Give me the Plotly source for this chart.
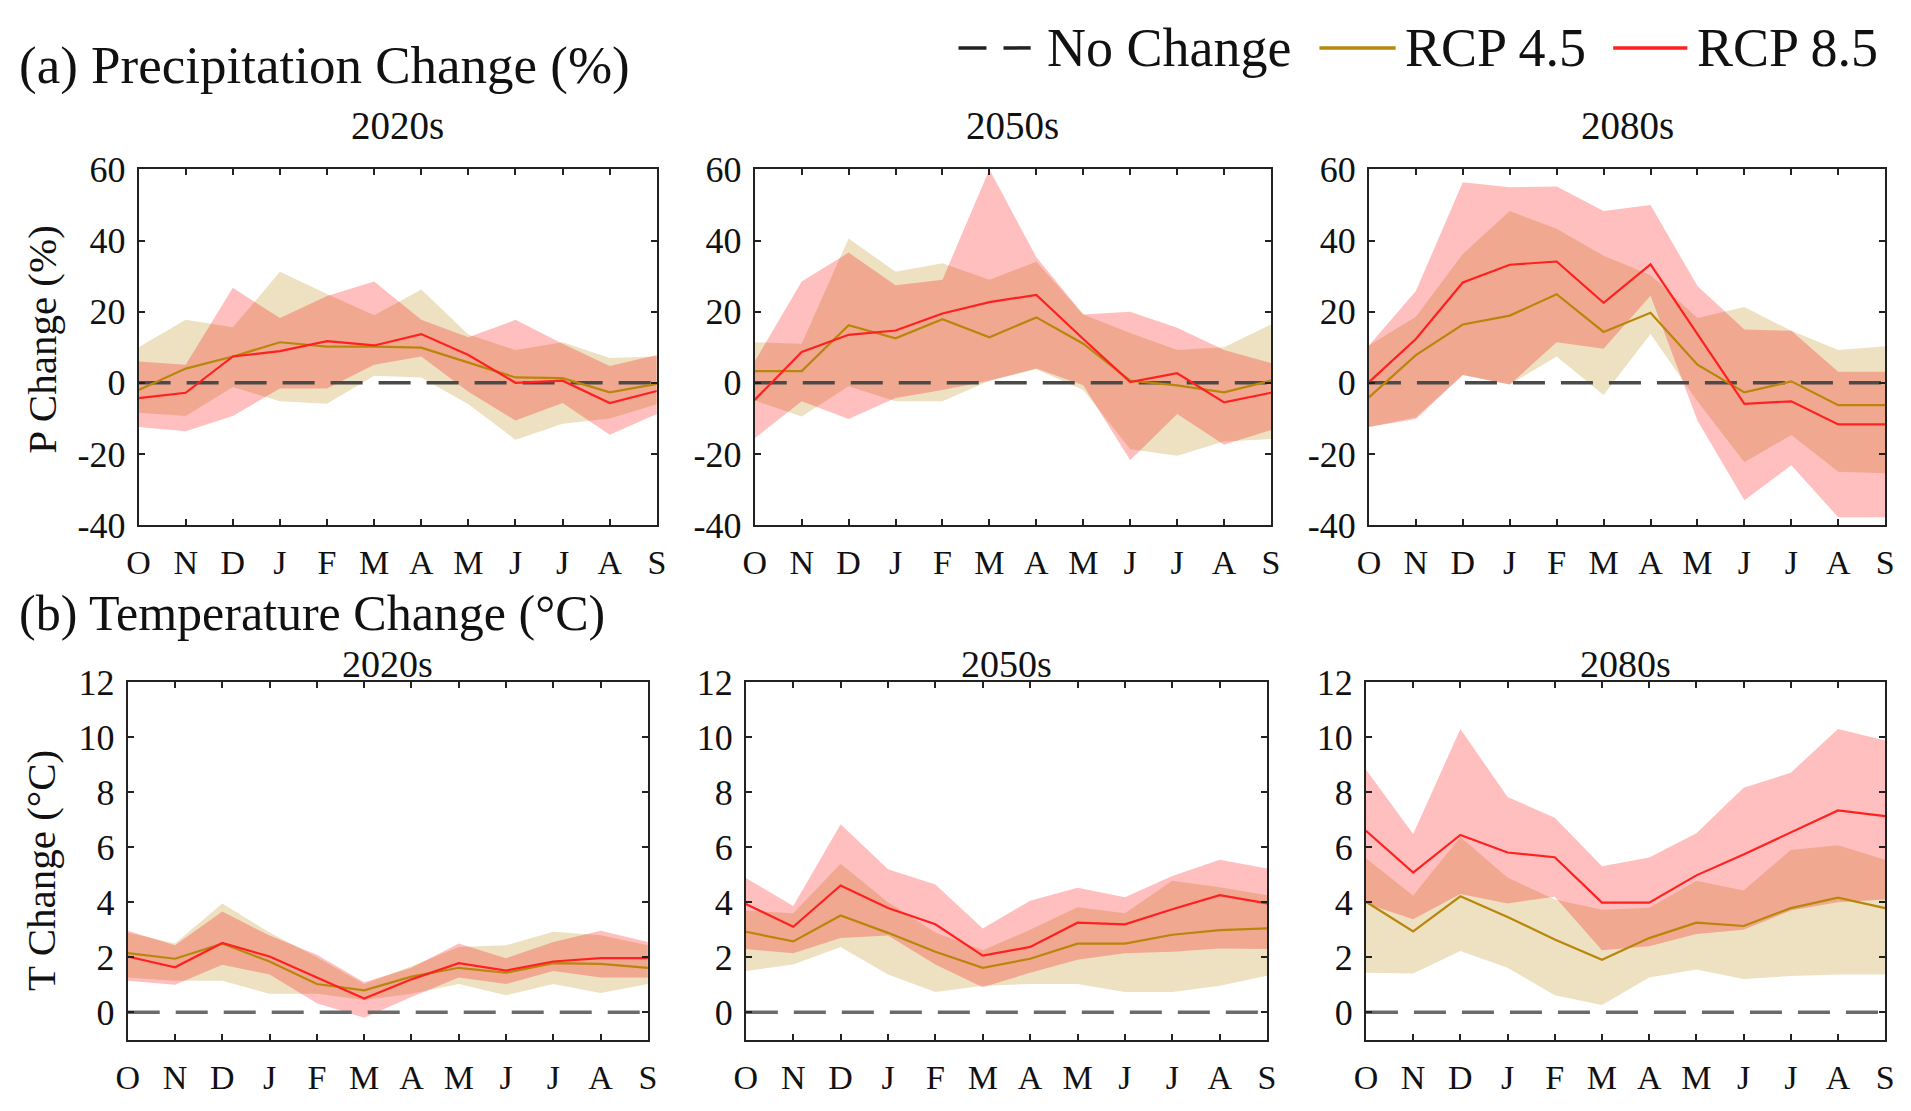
import plotly.graph_objects as go

months = ["O", "N", "D", "J", "F", "M", "A", "M", "J", "J", "A", "S"]
periods = ["2020s", "2050s", "2080s"]

# ---- Precipitation change (%) ----
P_2020_rcp45 = [-2, 4, 7.4, 11.4, 10.2, 10.2, 9.9, 5.6, 1.5, 1.3, -2.7, -0.3]
P_2020_rcp85 = [-4.3, -2.8, 7.4, 8.9, 11.7, 10.5, 13.7, 7.8, 0, 0.6, -5.7, -2.3]
P_2020_rcp45_hi = [10, 17.7, 15.6, 31.2, 25, 19, 26.2, 13.6, 9.2, 11.4, 7, 7.4]
P_2020_rcp45_lo = [-8.4, -9.3, -1.2, -5.2, -5.9, 2, 1.5, -6, -16, -11.5, -10, -6]
P_2020_rcp85_hi = [6, 5.1, 26.7, 18.2, 24.4, 28.5, 17.7, 12.8, 17.7, 11, 4.7, 7.8]
P_2020_rcp85_lo = [-12.4, -13.6, -9.3, -1.6, -1.6, 5.1, 7.4, -2.5, -10.6, -5.7, -14.6, -8.8]

P_2050_rcp45 = [3.3, 3.3, 16.2, 12.5, 17.9, 12.8, 18.4, 11, 0.6, -0.7, -2.7, 0.6]
P_2050_rcp85 = [-4.8, 8.7, 13.5, 14.7, 19.5, 22.7, 24.7, 12.3, 0.2, 2.7, -5.5, -2.8]
P_2050_rcp45_hi = [11.4, 11, 40.6, 31.2, 33.6, 29, 34, 19.2, 14, 9.2, 10, 16.4]
P_2050_rcp45_lo = [-5, -9.5, -1, -5.2, -5.2, 0.6, 3.8, -2, -18.7, -20.5, -16.5, -15.8]
P_2050_rcp85_hi = [6, 28.5, 36.6, 27.4, 29, 60, 35.3, 19.2, 20, 15.5, 9.2, 5.6]
P_2050_rcp85_lo = [-15.6, -5.2, -10.2, -4.3, -2, 0.6, 4, -0.7, -21.8, -8.8, -17.4, -13.3]

P_2080_rcp45 = [-4.1, 7.8, 16.4, 18.9, 24.9, 14.3, 19.7, 5.1, -2.7, 0.4, -6.3, -6.3]
P_2080_rcp85 = [0.2, 12.3, 28.2, 33.2, 34.1, 22.5, 33.3, 13.7, -5.9, -5.2, -11.7, -11.7]
P_2080_rcp45_hi = [10.5, 18.6, 36.2, 48.3, 43.3, 35.7, 30.3, 18.2, 21.3, 14.6, 9.2, 10.3]
P_2080_rcp45_lo = [-12.4, -9.7, 2.2, -0.5, 7.4, -3.4, 13.7, -5.2, -22.3, -14.7, -25, -25.4]
P_2080_rcp85_hi = [10.5, 25.8, 56.4, 55, 55.2, 48.3, 50, 27.2, 15, 14.6, 3.1, 3.1]
P_2080_rcp85_lo = [-12.4, -10.2, 2.2, -0.5, 11.4, 9.6, 24.5, -10.6, -33, -23.2, -37.8, -37.8]

# ---- Temperature change (°C) ----
T_2020_rcp45 = [2.15, 1.95, 2.5, 1.85, 1.03, 0.8, 1.3, 1.62, 1.44, 1.79, 1.76, 1.62]
T_2020_rcp85 = [2.03, 1.64, 2.52, 2.03, 1.27, 0.5, 1.2, 1.79, 1.52, 1.85, 1.97, 1.97]
T_2020_rcp45_hi = [2.9, 2.5, 3.96, 2.9, 2.0, 1.03, 1.68, 2.38, 2.44, 2.93, 2.8, 2.44]
T_2020_rcp45_lo = [1.27, 1.15, 1.15, 0.68, 0.68, 0.45, 0.68, 1.03, 0.62, 1.03, 0.7, 1.03]
T_2020_rcp85_hi = [2.97, 2.44, 3.67, 2.79, 2.09, 1.09, 1.62, 2.5, 1.97, 2.56, 2.97, 2.56]
T_2020_rcp85_lo = [1.15, 1.0, 1.73, 1.38, 0.33, -0.2, 0.56, 1.27, 1.03, 1.5, 1.27, 1.27]

T_2050_rcp45 = [2.93, 2.58, 3.52, 2.89, 2.2, 1.62, 1.95, 2.5, 2.5, 2.82, 2.99, 3.05]
T_2050_rcp85 = [3.94, 3.11, 4.61, 3.79, 3.2, 2.06, 2.38, 3.26, 3.2, 3.75, 4.26, 3.96]
T_2050_rcp45_hi = [3.7, 3.6, 5.4, 4.0, 2.9, 2.26, 3.0, 3.82, 3.6, 4.78, 4.55, 4.26]
T_2050_rcp45_lo = [1.5, 1.74, 2.38, 1.38, 0.74, 0.97, 1.03, 1.03, 0.74, 0.74, 0.97, 1.33]
T_2050_rcp85_hi = [4.88, 3.87, 6.84, 5.2, 4.65, 3.05, 4.06, 4.53, 4.18, 4.96, 5.55, 5.23]
T_2050_rcp85_lo = [2.3, 2.15, 2.7, 2.79, 1.74, 0.91, 1.44, 1.91, 2.15, 2.2, 2.32, 2.3]

T_2080_rcp45 = [4.02, 2.94, 4.22, 3.47, 2.65, 1.91, 2.7, 3.26, 3.14, 3.79, 4.17, 3.79]
T_2080_rcp85 = [6.6, 5.08, 6.45, 5.81, 5.64, 3.99, 3.99, 4.98, 5.74, 6.54, 7.34, 7.13]
T_2080_rcp45_hi = [5.6, 4.25, 6.37, 4.9, 4.1, 3.73, 3.8, 4.78, 4.43, 5.9, 6.07, 5.55]
T_2080_rcp45_lo = [1.44, 1.41, 2.23, 1.62, 0.62, 0.27, 1.27, 1.56, 1.21, 1.32, 1.38, 1.38]
T_2080_rcp85_hi = [8.83, 6.48, 10.3, 7.83, 7.07, 5.31, 5.63, 6.51, 8.16, 8.71, 10.3, 9.88]
T_2080_rcp85_lo = [3.96, 3.38, 4.3, 3.96, 4.2, 2.26, 2.4, 2.85, 3.0, 3.7, 4.0, 4.1]

P_ticks = [-40, -20, 0, 20, 40, 60]
P_ticktext = ["-40", "-20", "0", "20", "40", "60"]
T_ticks = [0, 2, 4, 6, 8, 10, 12]
T_ticktext = ["0", "2", "4", "6", "8", "10", "12"]

legend_names = ["No Change", "RCP 4.5", "RCP 8.5"]

panels = [
    (P_2020_rcp45, P_2020_rcp85, P_2020_rcp45_hi, P_2020_rcp45_lo, P_2020_rcp85_hi, P_2020_rcp85_lo),
    (P_2050_rcp45, P_2050_rcp85, P_2050_rcp45_hi, P_2050_rcp45_lo, P_2050_rcp85_hi, P_2050_rcp85_lo),
    (P_2080_rcp45, P_2080_rcp85, P_2080_rcp45_hi, P_2080_rcp45_lo, P_2080_rcp85_hi, P_2080_rcp85_lo),
    (T_2020_rcp45, T_2020_rcp85, T_2020_rcp45_hi, T_2020_rcp45_lo, T_2020_rcp85_hi, T_2020_rcp85_lo),
    (T_2050_rcp45, T_2050_rcp85, T_2050_rcp45_hi, T_2050_rcp45_lo, T_2050_rcp85_hi, T_2050_rcp85_lo),
    (T_2080_rcp45, T_2080_rcp85, T_2080_rcp45_hi, T_2080_rcp45_lo, T_2080_rcp85_hi, T_2080_rcp85_lo),
]

W, H = 1911, 1111
FONT = "Liberation Serif, Times New Roman, serif"
GOLD = "#B8860B"
RED = "#FF2020"
TAN_FILL = "rgba(184,134,11,0.25)"
PINK_FILL = "rgba(255,0,0,0.25)"
TXT = "#111111"

# pixel boxes (left, right, top, bottom)
boxes = [
    (128, 652, 156, 525), (751, 1273, 156, 525), (1372, 1894, 156, 525),
    (117, 643, 688, 1059), (742, 1269, 688, 1059), (1369, 1894, 688, 1059),
]

xs = list(range(len(months)))
fig = go.Figure()
layout = {}
annotations = []
shapes = []

for i, (r45, r85, h45, l45, h85, l85) in enumerate(panels):
    n = "" if i == 0 else str(i + 1)
    xa, ya = "x" + n, "y" + n
    is_p = i < 3
    fig.add_trace(go.Scatter(x=xs + xs[::-1], y=h45 + l45[::-1], fill="toself",
                             fillcolor=TAN_FILL, line=dict(width=0), mode="lines",
                             hoverinfo="skip", showlegend=False, xaxis=xa, yaxis=ya))
    fig.add_trace(go.Scatter(x=xs + xs[::-1], y=h85 + l85[::-1], fill="toself",
                             fillcolor=PINK_FILL, line=dict(width=0), mode="lines",
                             hoverinfo="skip", showlegend=False, xaxis=xa, yaxis=ya))
    fig.add_trace(go.Scatter(x=[xs[0], xs[-1]], y=[0, 0], mode="lines",
                             line=dict(color="#4a4a4a" if is_p else "#6a6a6a", width=3.5,
                                       dash="32px,16px"),
                             name=legend_names[0], showlegend=False, xaxis=xa, yaxis=ya))
    fig.add_trace(go.Scatter(x=xs, y=r45, mode="lines", line=dict(color=GOLD, width=2.2),
                             name=legend_names[1], showlegend=False, xaxis=xa, yaxis=ya))
    fig.add_trace(go.Scatter(x=xs, y=r85, mode="lines", line=dict(color=RED, width=2.2),
                             name=legend_names[2], showlegend=False, xaxis=xa, yaxis=ya))

    l, r, t, b = boxes[i]
    layout["xaxis" + n] = dict(
        domain=[l / W, r / W], range=[0, 11], anchor=ya,
        tickvals=xs, ticktext=months, ticks="inside", ticklen=6, tickwidth=2,
        tickcolor="#222", showline=True, linecolor="#222", linewidth=2, mirror="ticks",
        showgrid=False, zeroline=False, ticklabelstandoff=6,
        tickfont=dict(family=FONT, size=34, color=TXT))
    layout["yaxis" + n] = dict(
        domain=[1 - b / H, 1 - t / H], range=[-40, 60] if is_p else [-1, 12], anchor=xa,
        tickvals=P_ticks if is_p else T_ticks, ticktext=P_ticktext if is_p else T_ticktext,
        ticks="inside", ticklen=6, tickwidth=2, tickcolor="#222",
        showline=True, linecolor="#222", linewidth=2, mirror="ticks",
        showgrid=False, zeroline=False, ticklabelstandoff=4,
        tickfont=dict(family=FONT, size=36, color=TXT))
    title_y = 110 if is_p else 669
    annotations.append(dict(text=periods[i % 3], x=(l + r) / 2 / W, y=1 - title_y / H,
                            xref="paper", yref="paper", xanchor="center", yanchor="middle",
                            showarrow=False,
                            font=dict(family=FONT, size=39 if is_p else 38, color=TXT)))

annotations += [
    dict(text="(a) Precipitation Change (%)", x=5 / W, y=1 - 48 / H, xref="paper", yref="paper",
         xanchor="left", yanchor="middle", showarrow=False,
         font=dict(family=FONT, size=53, color=TXT)),
    dict(text="(b) Temperature Change (°C)", x=5 / W, y=1 - 616 / H, xref="paper", yref="paper",
         xanchor="left", yanchor="middle", showarrow=False,
         font=dict(family=FONT, size=50, color=TXT)),
    dict(text="P Change (%)", x=30 / W, y=1 - 333 / H, xref="paper", yref="paper",
         xanchor="center", yanchor="middle", textangle=-90, showarrow=False,
         font=dict(family=FONT, size=41, color=TXT)),
    dict(text="T Change (°C)", x=30 / W, y=1 - 883 / H, xref="paper", yref="paper",
         xanchor="center", yanchor="middle", textangle=-90, showarrow=False,
         font=dict(family=FONT, size=41, color=TXT)),
]

# manual legend (samples + labels) across the top right
LEG_Y = 1 - 30 / H
legend_items = [
    (957, 1030, 1044, "#222222", "28px,17px", legend_names[0]),
    (1322, 1399, 1406, GOLD, "solid", legend_names[1]),
    (1619, 1694, 1702, RED, "solid", legend_names[2]),
]
for x0, x1, tx, col, dash, name in legend_items:
    shapes.append(dict(type="line", xref="paper", yref="paper", x0=x0 / W, x1=x1 / W,
                       y0=LEG_Y, y1=LEG_Y, line=dict(color=col, width=3.5, dash=dash)))
    annotations.append(dict(text=name, x=tx / W, y=LEG_Y, xref="paper", yref="paper",
                            xanchor="left", yanchor="middle", showarrow=False,
                            font=dict(family=FONT, size=54, color=TXT)))

fig.update_layout(
    width=W, height=H, margin=dict(l=0, r=0, t=0, b=0),
    paper_bgcolor="white", plot_bgcolor="white",
    annotations=annotations, shapes=shapes, showlegend=False,
    **layout,
)

fig.write_html("out.html")
